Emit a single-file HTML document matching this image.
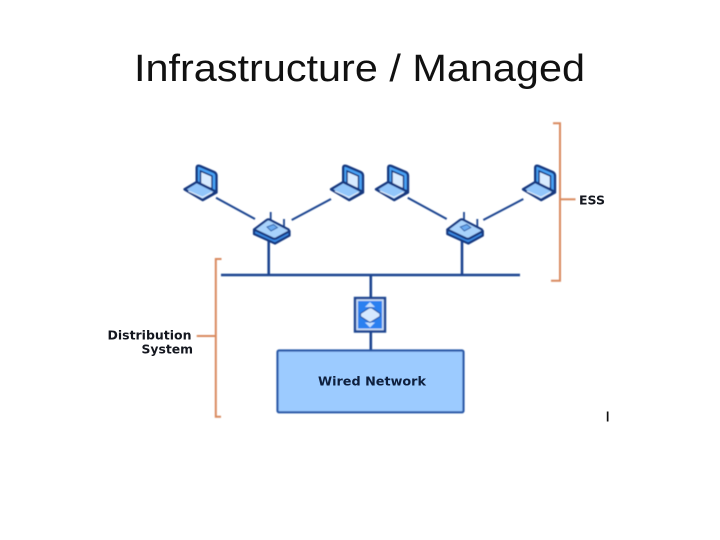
<!DOCTYPE html>
<html>
<head>
<meta charset="utf-8">
<style>
html,body{margin:0;padding:0;background:#fff;width:720px;height:540px;overflow:hidden}
svg{display:block}
</style>
</head>
<body>
<svg width="720" height="540" viewBox="0 0 720 540" xmlns="http://www.w3.org/2000/svg">
<defs>
<filter id="b" x="-5%" y="-5%" width="110%" height="110%"><feGaussianBlur stdDeviation="0.45"/></filter>
<g id="laptop">
  <path d="M196.700 184 L196.700 168 Q196.700 164.800 200 166 L214 172 Q216.500 173.200 216.500 176 L216.500 192.500 L203 200 Z" fill="#4aa3f7" stroke="#14387f" stroke-width="2.400" stroke-linejoin="round"/>
  <path d="M200.500 171 L212 176 L212 189 L200.500 184 Z" fill="#d8ebff" stroke="#14387f" stroke-width="1.500"/>
  <path d="M184.500 189.300 L196.700 182 L216 191.700 L202.500 200 Z" fill="#92c6fb" stroke="#14387f" stroke-width="2.400" stroke-linejoin="round"/>
  <path d="M188.500 191 L202.500 197.300 L212 192.300" fill="none" stroke="#e0efff" stroke-width="1.200"/>
</g>
<g id="router">
  <path d="M270.700 212 V221 M284 219 V228" stroke="#1c4490" stroke-width="1.800" fill="none"/>
  <path d="M254 230 L254 234 L275 243.500 L289.500 235.500 L289.500 231 Z" fill="#3a8ae6" stroke="#14387f" stroke-width="2.200" stroke-linejoin="round"/>
  <path d="M254 229.500 L267 219.800 Q268.500 219 270 219.800 L288.500 229.500 Q289.500 231 288 232 L276 238.500 Q274.500 239 273 238.500 Z" fill="#a9d3fc" stroke="#14387f" stroke-width="2.200" stroke-linejoin="round"/>
  <path d="M267 227 L273.500 224.500 L277.500 227.500 L271 231 Z" fill="#6aaaf0" stroke="#3566ad" stroke-width="1"/>
</g>
</defs>

<text x="134" y="81" font-family="'Liberation Sans',sans-serif" font-size="38" fill="#111" textLength="451" lengthAdjust="spacingAndGlyphs">Infrastructure / Managed</text>

<g filter="url(#b)">
  <g fill="none" stroke="#d98a5e" stroke-width="2">
    <path d="M221.500 259 H215.800 V416.700 H221"/>
    <path d="M196.700 336 H215.800"/>
    <path d="M553 123.300 H560 V280.700 H551"/>
    <path d="M560 199.300 H575.500"/>
  </g>

  <g stroke="#1c4490" fill="none">
    <g stroke-width="2">
      <path d="M216 197.700 L255 219"/>
      <path d="M291.700 220 L331 199"/>
      <path d="M407.700 197.700 L446.700 219"/>
      <path d="M483.300 220 L523.300 199"/>
    </g>
    <g stroke-width="2.600">
      <path d="M221 275 H520"/>
      <path d="M268.700 241 V275"/>
      <path d="M462 241 V275"/>
      <path d="M370.800 275 V298"/>
      <path d="M370.800 332 V350"/>
    </g>
  </g>

  <use href="#laptop"/>
  <use href="#laptop" x="146.500"/>
  <use href="#laptop" x="191.500"/>
  <use href="#laptop" x="338.500"/>

  <use href="#router"/>
  <use href="#router" x="193.300"/>

  <rect x="355" y="298" width="30" height="33.500" fill="#c8dcf5" stroke="#1c4490" stroke-width="2.400"/>
  <rect x="358" y="301" width="24" height="27.500" fill="#2a80f0"/>
  <path d="M370 302 L375 307 H365 Z M370 327.500 L375 322.500 H365 Z" fill="#c4e0ff"/>
  <path d="M360.500 313.500 L369 308 Q370.500 307.500 372 308 L380 313.500 L380 316.500 L371 322 Q370 322.500 369 322 L360.500 316.500 Z" fill="#d5e9ff" stroke="#2a5aa8" stroke-width="1.200"/>

  <rect x="277.500" y="350.500" width="186" height="61.800" rx="1.500" fill="#9ccbff" stroke="#2a5aa8" stroke-width="2.200"/>
</g>

<g font-family="'DejaVu Sans',sans-serif" font-weight="bold" font-size="12" fill="#14171f">
  <text x="318" y="385.500" textLength="108" lengthAdjust="spacingAndGlyphs" fill="#0e1f3d">Wired Network</text>
  <text x="107.500" y="339.500" textLength="84" lengthAdjust="spacingAndGlyphs">Distribution</text>
  <text x="141.500" y="353.500" textLength="51.500" lengthAdjust="spacingAndGlyphs">System</text>
  <text x="579" y="204.500" textLength="26" lengthAdjust="spacingAndGlyphs">ESS</text>
</g>

<rect x="606.800" y="411.500" width="1.700" height="10" fill="#111"/>
</svg>
</body>
</html>
